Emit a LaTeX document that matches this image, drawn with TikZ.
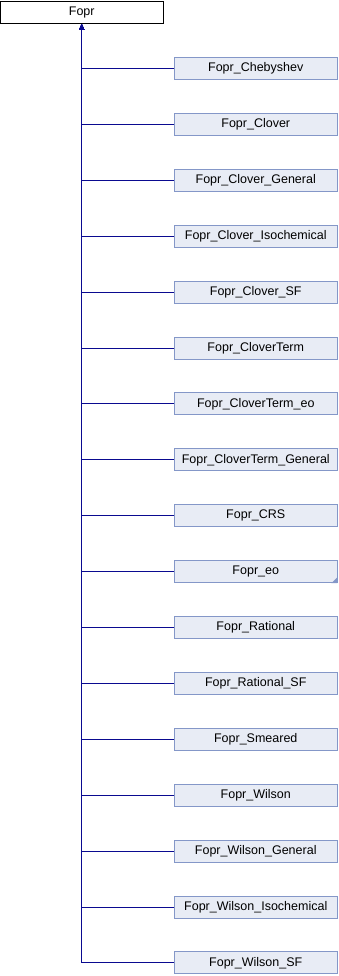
\documentclass[tikz,border=0pt]{standalone}
\usepackage{fontspec}
\setmainfont{Liberation Sans}
\usetikzlibrary{arrows.meta}
\definecolor{nodefill}{HTML}{E8ECF5}
\definecolor{nodeedge}{HTML}{8497C8}
\definecolor{edgeblue}{HTML}{0A0A90}
\tikzset{
  x=1pt, y=-1pt,
  rootbox/.style={draw=black, fill=white, line width=0.9pt, minimum width=162.5pt, minimum height=22pt, inner sep=0pt, font=\fontsize{12.5}{14}\selectfont},
  childbox/.style={draw=nodeedge, fill=nodefill, line width=0.9pt, minimum width=162.5pt, minimum height=22pt, inner sep=0pt, font=\fontsize{12.5}{14}\selectfont},
  edge/.style={draw=edgeblue, line width=0.9pt, -{Triangle[length=6pt,width=5pt]}}
}
\begin{document}
\begin{tikzpicture}
\useasboundingbox (0,0) rectangle (338,976);
\node[rootbox] (root) at (81.75,12.5) {Fopr};
\foreach \n [count=\i from 0] in {Fopr\_Chebyshev,Fopr\_Clover,Fopr\_Clover\_General,Fopr\_Clover\_Isochemical,Fopr\_Clover\_SF,Fopr\_CloverTerm,Fopr\_CloverTerm\_eo,Fopr\_CloverTerm\_General,Fopr\_CRS,Fopr\_eo,Fopr\_Rational,Fopr\_Rational\_SF,Fopr\_Smeared,Fopr\_Wilson,Fopr\_Wilson\_General,Fopr\_Wilson\_Isochemical,Fopr\_Wilson\_SF}{
  \node[childbox] (c\i) at (255.75,{68.5+55.9*\i}) {\n};
  \draw[edge] (c\i.west) -| (root.south);
}
\fill[nodeedge] (c9.south east) -- ++(0,-6) -- ++(-6,6) -- cycle;
\end{tikzpicture}
\end{document}
